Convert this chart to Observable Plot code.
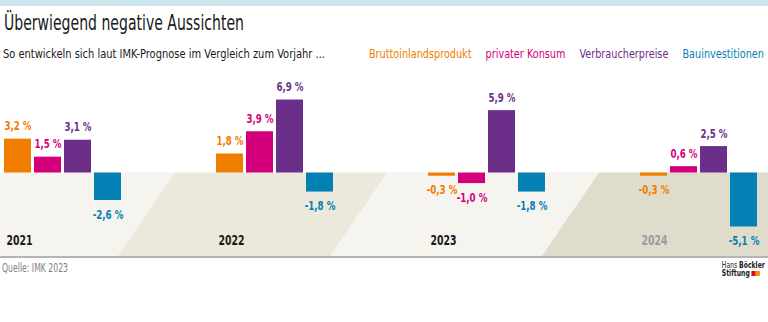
<!DOCTYPE html>
<html><head><meta charset="utf-8">
<script src="https://cdn.jsdelivr.net/npm/d3@7"></script>
<script src="https://cdn.jsdelivr.net/npm/@observablehq/plot@0.6"></script>
<style>
body{margin:0;background:#fff;font-family:"DejaVu Sans",sans-serif;font-stretch:condensed;}
#wrap{position:relative;width:768px;height:322px;overflow:hidden;background:#fff;}
#band{position:absolute;left:0;top:0;width:768px;height:6px;background:#cbe5ee;}
.sx{transform-origin:left center;}
#title{position:absolute;left:4px;top:11px;font-size:21px;line-height:24px;color:#1a1a1a;white-space:nowrap;}
#sub{position:absolute;left:3px;top:46px;font-size:13px;line-height:16px;color:#1a1a1a;white-space:nowrap;}
#legend{position:absolute;top:46px;right:4px;display:flex;gap:17px;font-size:13px;line-height:16px;white-space:nowrap;transform-origin:right center;}
#chart{position:absolute;left:0;top:66px;}
#source{position:absolute;left:2px;top:261px;font-size:12px;line-height:14px;color:#808080;white-space:nowrap;}
#logo{position:absolute;right:3px;top:262px;font-size:8px;line-height:8px;color:#1a1a1a;transform-origin:right center;}
#logo .sq{display:inline-block;width:5px;height:5px;vertical-align:0px;}
</style></head>
<body>
<div id="wrap">
  <div id="band"></div>
  <div id="title" class="sx">Überwiegend negative Aussichten</div>
  <div id="sub" class="sx">So entwickeln sich laut IMK-Prognose im Vergleich zum Vorjahr ...</div>
  <div id="legend"></div>
  <div id="chart"></div>
  <div id="source" class="sx">Quelle: IMK 2023</div>
  <div id="logo"><div>Hans <b>Böckler</b></div><div><b>Stiftung</b> <span class="sq" style="background:#e30613"></span><span class="sq" style="background:#f39200"></span></div></div>
</div>
<script>
const years = ["2021", "2022", "2023", "2024"];
const forecastYears = ["2024"];
const series = ["Bruttoinlandsprodukt", "privater Konsum", "Verbraucherpreise", "Bauinvestitionen"];
const colors = ["#ef7d00", "#d4007b", "#6b2f8a", "#0580b4"];
const bip = [3.2, 1.8, -0.3, -0.3];
const konsum = [1.5, 3.9, -1.0, 0.6];
const preise = [3.1, 6.9, 5.9, 2.5];
const bau = [-2.6, -1.8, -1.8, -5.1];

const valuesBySeries = [bip, konsum, preise, bau];
const data = [];
years.forEach((yr, i) => {
  series.forEach((s, j) => data.push({year: yr, series: s, value: valuesBySeries[j][i]}));
});
const fmt = v => v.toFixed(1).replace(".", ",") + " %";

// legend
const leg = document.getElementById("legend");
series.forEach((s, j) => {
  const sp = document.createElement("span");
  sp.textContent = s; sp.style.color = colors[j];
  leg.appendChild(sp);
});

const font = '"DejaVu Sans",sans-serif';
const plot = Plot.plot({
  width: 768, height: 194,
  marginLeft: 3, marginRight: 11, marginTop: 0, marginBottom: 0,
  style: {fontFamily: font, fontSize: "13px", background: "transparent", fontStretch: "condensed"},
  fx: {domain: years, paddingInner: 0.449, paddingOuter: 0, axis: null},
  x: {domain: series, paddingInner: 0.1, paddingOuter: 0, axis: null},
  y: {domain: [-8.27, 10.07], axis: null},
  color: {domain: series, range: colors},
  marks: [
    Plot.barY(data, {fx: "year", x: "series", y: "value", fill: "series"}),
    Plot.text(data.filter(d => d.value >= 0), {fx: "year", x: "series", y: "value", text: d => fmt(d.value), fill: "series", dy: -13, fontWeight: "bold"}),
    Plot.text(data.filter(d => d.value < 0), {fx: "year", x: "series", y: "value", text: d => fmt(d.value), fill: "series", dy: 14, fontWeight: "bold"}),
    Plot.text(years.filter(y => !forecastYears.includes(y)), {fx: d => d, text: d => d, frameAnchor: "bottom-left", textAnchor: "start", dx: 2, dy: -16, fontSize: 14, fontWeight: "bold", fill: "#1a1a1a"}),
    Plot.text(forecastYears, {fx: d => d, text: d => d, frameAnchor: "bottom-left", textAnchor: "start", dx: 1, dy: -16, fontSize: 14, fontWeight: "bold", fill: "#9b9b9b"})
  ]
});
document.getElementById("chart").appendChild(plot);

// decorative background below the zero line
const svgEl = plot.tagName.toLowerCase() === "svg" ? plot : plot.querySelector("svg");
const svg = d3.select(svgEl);
const fx = plot.scale("fx"), y = plot.scale("y");
const y0 = y.apply(0), yb = 190, shift = 57, W = 768;
const gEnd = yr => fx.apply(yr) + fx.bandwidth + 54;
const bg = svg.insert("g", ":first-child");
bg.append("rect").attr("x", 0).attr("y", y0).attr("width", W).attr("height", yb - y0).attr("fill", "#f5f4ee");
const poly = (a, b, c) => bg.append("polygon")
  .attr("points", [[a, y0], [b, y0], [b === W ? W : b - shift, yb], [a - shift, yb]].map(p => p.join(",")).join(" "))
  .attr("fill", c);
poly(gEnd("2021"), gEnd("2022"), "#ebe8dc");
poly(gEnd("2023"), W, "#e0dccb");
bg.append("rect").attr("x", 0).attr("y", yb).attr("width", W).attr("height", 2).attr("fill", "#b5b5b5");

// condense text horizontally to mimic the narrow original typeface
const fit = (id, target) => {
  const el = document.getElementById(id);
  const k = target / el.getBoundingClientRect().width;
  el.style.transform = `scaleX(${k})`;
  return k;
};
const K = fit("title", 240);
fit("sub", 322);
fit("legend", 395);
fit("source", 66);
fit("logo", 43);
svgEl.querySelectorAll("text").forEach(t => {
  const len = t.getComputedTextLength();
  t.setAttribute("textLength", len * K);
  t.setAttribute("lengthAdjust", "spacingAndGlyphs");
});
</script>
</body></html>
